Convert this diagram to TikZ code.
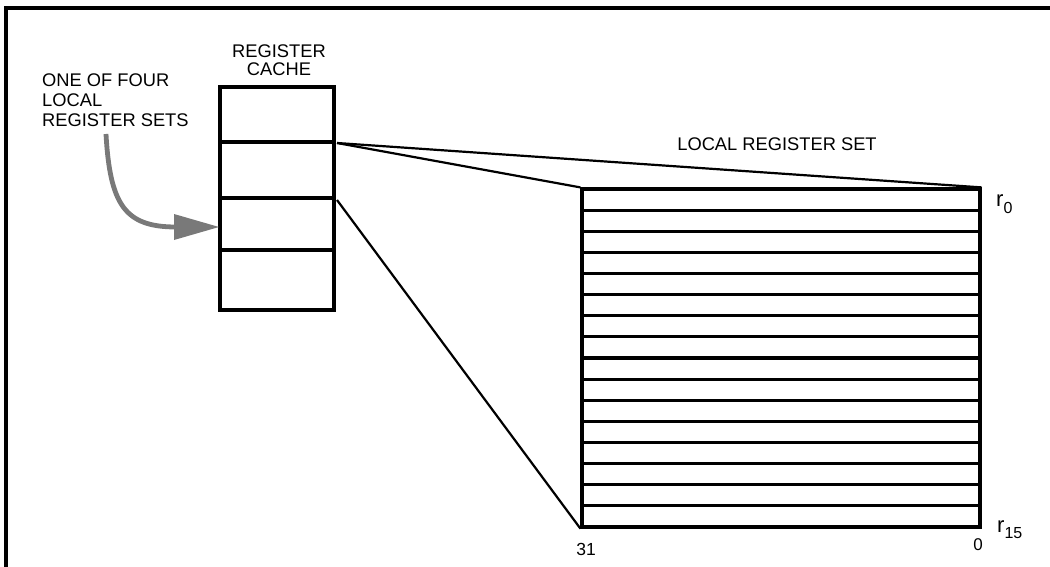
\documentclass[tikz,border=0pt]{standalone}
\usepackage{fontspec}
\setmainfont{Liberation Sans}
\begin{document}
\begin{tikzpicture}[x=1pt,y=-1pt,
  lbl/.style={font=\fontsize{18.3}{19}\selectfont, inner sep=0pt},
  boxline/.style={line width=3.2pt},
  thinline/.style={line width=2.2pt},
  pointer/.style={draw=gray!95!black, line width=4.8pt},
  tipfill/.style={fill=gray!95!black}]
\useasboundingbox (0,0) rectangle (1050,567);
% frame (only top and left edges visible)
\coordinate (ftl) at (6,8);
\coordinate (ftr) at (1052,8);
\coordinate (fbl) at (6,569);
\draw[boxline,line cap=rect] (ftr) -- (ftl) -- (fbl);
% register cache
\node[boxline, draw, minimum width=114pt, minimum height=223pt, inner sep=0pt] (cache) at (277,198.5) {};
\coordinate (c1l) at (220,142); \coordinate (c1r) at (334,142);
\coordinate (c2l) at (220,198); \coordinate (c2r) at (334,198);
\coordinate (c3l) at (220,250); \coordinate (c3r) at (334,250);
\draw[boxline] (c1l) -- (c1r) (c2l) -- (c2r) (c3l) -- (c3r);
\node[lbl, align=center, anchor=base] (cachelbl) at (279,75.7) {REGISTER\\[-1pt]CACHE};
% local register set
\node[boxline, draw, minimum width=398pt, minimum height=338pt, inner sep=0pt] (lrs) at (781,358) {};
\foreach \i in {1,...,15} {
  \draw[boxline] (582,189+\i*21.125) -- (980,189+\i*21.125);
}
\node[lbl, anchor=base] (lrslbl) at (777,151) {LOCAL REGISTER SET};
% connectors
\coordinate (cf1) at (337,143);
\coordinate (cf2) at (337,200);
\draw[thinline] (cf1) -- (lrs.north east);
\draw[thinline] (cf1) -- (lrs.north west);
\draw[thinline] (cf2) -- (lrs.south west);
% labels r0, r15, 31, 0
\node[font=\fontsize{22}{22}\selectfont, inner sep=0pt, anchor=base west] (r0) at (996,207) {r\raisebox{-6pt}{\fontsize{16}{16}\selectfont 0}};
\node[font=\fontsize{22}{22}\selectfont, inner sep=0pt, anchor=base west] (r15) at (997,532) {r\raisebox{-6pt}{\fontsize{16}{16}\selectfont 15}};
\node[font=\fontsize{17.5}{17.5}\selectfont, inner sep=0pt, anchor=base] (b31) at (586,555) {31};
\node[font=\fontsize{17}{17}\selectfont, inner sep=0pt, anchor=base] (b0) at (978,550) {0};
% pointer label and arrow
\node[lbl, align=left, anchor=base west] (onelbl) at (42,126.5) {ONE OF FOUR\\[1.2pt]LOCAL\\[1.2pt]REGISTER SETS};
\coordinate (ps) at (106,134);
\coordinate (pe) at (176,227);
\draw[pointer] (ps) .. controls (110,205) and (125,227) .. (pe);
\coordinate (tip) at (219,227);
\fill[tipfill] (174,214) -- (tip) -- (174,240) -- cycle;
\end{tikzpicture}
\end{document}
